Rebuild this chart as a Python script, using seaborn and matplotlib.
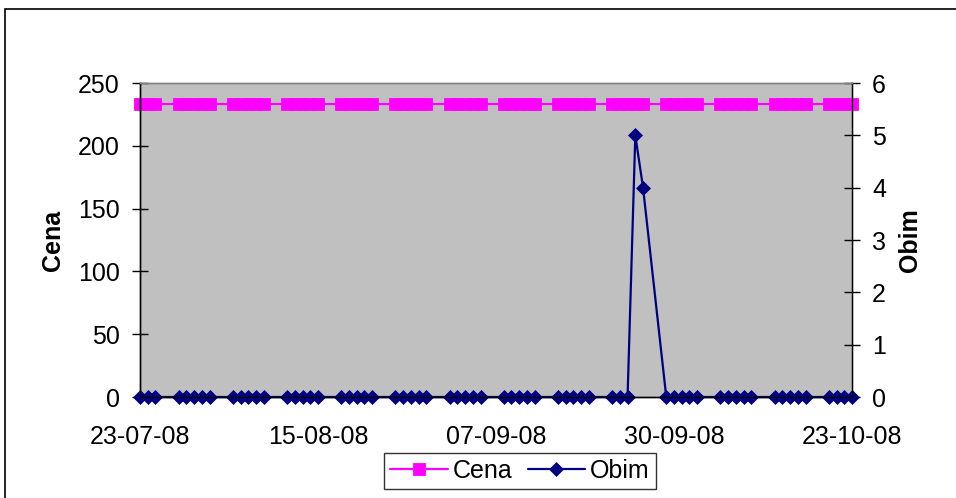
import pandas as pd
import numpy as np
import matplotlib
matplotlib.use("Agg")
import matplotlib.pyplot as plt
import matplotlib.dates as mdates
import matplotlib.patches as patches
import seaborn as sns

# Trading days (Mon-Fri) shown on the chart
dates = pd.bdate_range("2008-07-23", "2008-10-23")

# Cena (left axis) - flat price
cena = [233] * len(dates)

# Obim (right axis) - volume, one row per week
obim = (
    [0, 0, 0]            # 23-25 Jul
    + [0, 0, 0, 0, 0]    # 28 Jul - 1 Aug
    + [0, 0, 0, 0, 0]    # 4-8 Aug
    + [0, 0, 0, 0, 0]    # 11-15 Aug
    + [0, 0, 0, 0, 0]    # 18-22 Aug
    + [0, 0, 0, 0, 0]    # 25-29 Aug
    + [0, 0, 0, 0, 0]    # 1-5 Sep
    + [0, 0, 0, 0, 0]    # 8-12 Sep
    + [0, 0, 0, 0, 0]    # 15-19 Sep
    + [0, 0, 0, 5, 4]    # 22-26 Sep
    + [0, 0, 0, 0, 0]    # 29 Sep - 3 Oct
    + [0, 0, 0, 0, 0]    # 6-10 Oct
    + [0, 0, 0, 0, 0]    # 13-17 Oct
    + [0, 0, 0, 0]       # 20-23 Oct
)

tick_dates = ["2008-07-23", "2008-08-15", "2008-09-07", "2008-09-30", "2008-10-23"]

df = pd.DataFrame({"datum": dates, "Cena": cena, "Obim": obim})

sns.set_style("white")
plt.rcParams["font.family"] = ["Liberation Sans", "DejaVu Sans"]
plt.rcParams["text.color"] = "black"
plt.rcParams["axes.labelcolor"] = "black"
plt.rcParams["xtick.color"] = "black"
plt.rcParams["ytick.color"] = "black"
fs = 18

fig = plt.figure(figsize=(9.56, 4.98), dpi=100)
ax = fig.add_axes([140 / 956, 1 - 397 / 498, 712 / 956, 314 / 498])
ax.set_facecolor("#C0C0C0")

sns.lineplot(data=df, x="datum", y="Cena", ax=ax, color="#FF00FF", marker="s",
             markersize=8.4, markeredgewidth=0.6, markeredgecolor="#FF00FF",
             linewidth=1.6, label="Cena", clip_on=False)

ax2 = ax.twinx()
sns.lineplot(data=df, x="datum", y="Obim", ax=ax2, color="#000080", marker="D",
             markersize=6.8, markeredgewidth=0.5, markeredgecolor="#000080",
             linewidth=1.6, label="Obim", clip_on=False)

for a in (ax, ax2):
    if a.get_legend() is not None:
        a.get_legend().remove()

ax.set_xlim(pd.Timestamp("2008-07-23"), pd.Timestamp("2008-10-23"))
ax.set_ylim(0, 250)
ax.set_yticks(np.arange(0, 251, 50))
ax2.set_ylim(0, 6)
ax2.set_yticks(np.arange(0, 7, 1))

ax.set_xticks(pd.to_datetime(tick_dates))
ax.xaxis.set_major_formatter(mdates.DateFormatter("%d-%m-%y"))
ax.xaxis.set_minor_locator(plt.NullLocator())

ax.tick_params(axis="y", direction="inout", length=11, width=1, colors="black",
               labelsize=fs, pad=9)
ax.tick_params(axis="x", direction="inout", length=11, width=1, colors="black",
               labelsize=fs, pad=15)
ax2.tick_params(axis="y", direction="inout", length=11, width=1, colors="black",
                labelsize=fs, pad=9)

ax.set_xlabel("")
ax.set_ylabel("Cena", fontsize=fs, fontweight="bold", color="black")
ax2.set_ylabel("Obim", fontsize=fs, fontweight="bold", color="black")
ax.yaxis.set_label_coords(-0.106, 0.5)
ax2.yaxis.set_label_coords(1.064, 0.5)

for a in (ax, ax2):
    a.spines["top"].set_color("#808080")
    a.spines["left"].set_color("black")
    a.spines["right"].set_color("black")
    a.spines["bottom"].set_color("black")
    for s in a.spines.values():
        s.set_linewidth(1)
ax.spines["right"].set_color("#808080")

# legend below the plot
h1, l1 = ax.get_legend_handles_labels()
h2, l2 = ax2.get_legend_handles_labels()
leg = fig.legend(h1 + h2, l1 + l2, loc="center", bbox_to_anchor=(520 / 956, 1 - 471 / 498),
                 ncol=2, fontsize=fs, frameon=True, fancybox=False, handlelength=2.3,
                 handletextpad=0.2, columnspacing=0.6, borderpad=0.25)
leg.get_frame().set_edgecolor("black")
leg.get_frame().set_linewidth(1)
for t in leg.get_texts():
    t.set_color("black")

# outer chart border
fig.patches.append(patches.Rectangle((5 / 956, -0.1), 1.2, 1.1 - 9 / 498,
                                     transform=fig.transFigure, fill=False,
                                     edgecolor="black", linewidth=1.2))

fig.savefig("out.png", dpi=100)
